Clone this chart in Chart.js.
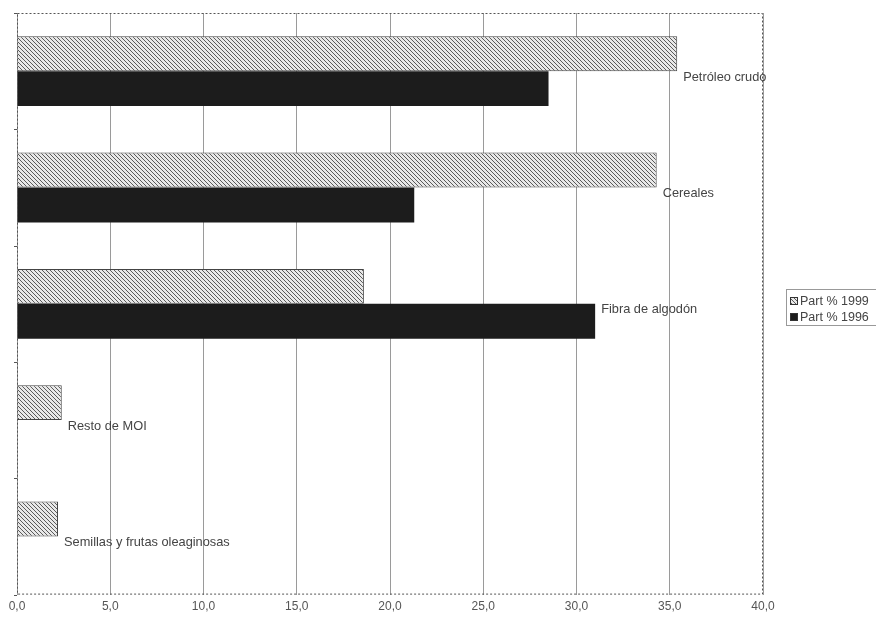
<!DOCTYPE html>
<html>
<head>
<meta charset="utf-8">
<script src="https://cdn.jsdelivr.net/npm/chart.js@4"></script>
<style>
  html, body { margin: 0; padding: 0; background: #fff; }
  #wrap { width: 876px; height: 625px; }
</style>
</head>
<body>
<div id="wrap"><canvas id="exportChart" width="876" height="625"></canvas></div>
<script>
var categories = ['Petróleo crudo', 'Cereales', 'Fibra de algodón', 'Resto de MOI', 'Semillas y frutas oleaginosas'];
var part1999 = [35.4, 34.3, 18.6, 2.4, 2.2];
var part1996 = [28.5, 21.3, 31.0, 0, 0];
var xTicks = [0, 5, 10, 15, 20, 25, 30, 35, 40];

// hatch fill for the 1999 series
function hatch() {
    var c = document.createElement('canvas');
    c.width = 4; c.height = 4;
    var g = c.getContext('2d');
    g.fillStyle = '#e8e8e8';
    g.fillRect(0, 0, 4, 4);
    g.strokeStyle = '#5a5a5a';
    g.lineWidth = 1;
    g.beginPath();
    g.moveTo(0, 0); g.lineTo(4, 4);
    g.moveTo(-1, 3); g.lineTo(1, 5);
    g.moveTo(3, -1); g.lineTo(5, 1);
    g.stroke();
    return g.createPattern(c, 'repeat');
}
var hatchFill = hatch();

// dotted frame, left tick marks, category labels and legend
var extras = {
    id: 'extras',
    afterDraw: function (chart) {
        var ctx = chart.ctx, a = chart.chartArea, y = chart.scales.y, x = chart.scales.x;
        ctx.save();
        ctx.strokeStyle = '#555';
        ctx.lineWidth = 1;
        ctx.setLineDash([2, 2]);
        ctx.strokeRect(a.left + 0.5, a.top + 0.5, a.right - a.left - 1, a.bottom - a.top - 1);
        ctx.setLineDash([]);
        var step = (a.bottom - a.top) / categories.length;
        for (var i = 0; i <= categories.length; i++) {
            var ty = Math.round(a.top + step * i) + 0.5;
            ctx.beginPath(); ctx.moveTo(a.left - 3, ty); ctx.lineTo(a.left, ty); ctx.stroke();
        }
        ctx.fillStyle = '#444';
        ctx.font = '12.8px "Liberation Sans", Arial, sans-serif';
        ctx.textBaseline = 'middle';
        ctx.textAlign = 'left';
        for (var j = 0; j < categories.length; j++) {
            var v = Math.max(part1999[j], part1996[j]);
            var px = x.getPixelForValue(v) + 6;
            var py = y.getPixelForValue(j) + 6;
            ctx.fillText(categories[j], px, py);
        }
        // legend
        var lx = 786, ly = 289;
        ctx.strokeStyle = '#999';
        ctx.strokeRect(lx + 0.5, ly + 0.5, 95, 36);
        ctx.font = '12.5px "Liberation Sans", Arial, sans-serif';
        var names = ['Part % 1999', 'Part % 1996'];
        for (var k = 0; k < 2; k++) {
            var cy = ly + 12 + k * 16;
            ctx.fillStyle = k === 0 ? hatchFill : '#1c1c1c';
            ctx.fillRect(lx + 4, cy - 4, 8, 8);
            ctx.strokeStyle = '#333';
            ctx.strokeRect(lx + 4.5, cy - 3.5, 7, 7);
            ctx.fillStyle = '#444';
            ctx.fillText(names[k], lx + 14, cy + 0.5);
        }
        ctx.restore();
    }
};

var ctx = document.getElementById('exportChart').getContext('2d');
var chart = new Chart(ctx, {
    type: 'bar',
    data: {
        labels: categories,
        datasets: [{
            label: 'Part % 1999',
            data: part1999,
            backgroundColor: hatchFill,
            borderColor: '#444',
            borderWidth: 1
        }, {
            label: 'Part % 1996',
            data: part1996,
            backgroundColor: '#1c1c1c',
            borderColor: '#1c1c1c',
            borderWidth: 0
        }]
    },
    options: {
        indexAxis: 'y',
        responsive: false,
        animation: false,
        events: [],
        categoryPercentage: 0.6,
        barPercentage: 1.0,
        layout: { padding: { left: 17, top: 13, right: 113, bottom: 6 } },
        plugins: { legend: { display: false }, tooltip: { enabled: false } },
        scales: {
            x: {
                min: 0, max: 40,
                afterBuildTicks: function (s) { s.ticks = xTicks.map(function (v) { return { value: v }; }); },
                grid: { color: '#9a9a9a', lineWidth: 1, drawTicks: false },
                border: { display: false },
                ticks: {
                    padding: 5,
                    color: '#555',
                    font: { family: '"Liberation Sans", Arial, sans-serif', size: 12 },
                    callback: function (v) { return v.toFixed(1).replace('.', ','); }
                }
            },
            y: { display: false }
        }
    },
    plugins: [extras]
});
</script>
</body>
</html>
